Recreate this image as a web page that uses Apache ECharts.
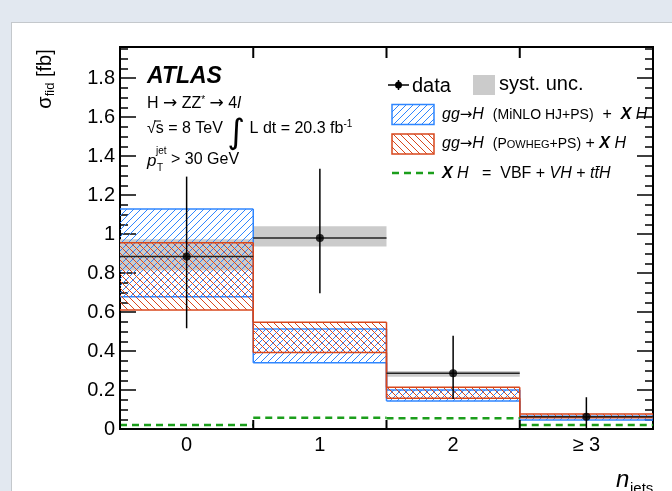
<!DOCTYPE html>
<html>
<head>
<meta charset="utf-8">
<script src="https://cdn.jsdelivr.net/npm/echarts@6/dist/echarts.min.js"></script>
<style>
  html, body { margin: 0; padding: 0; background: #e2e8f0; overflow: hidden; }
  #panel { position: absolute; left: 11px; top: 22px; width: 720px; height: 520px;
           background: #fff; border-left: 1px solid #c4c8cc; border-top: 1px solid #c4c8cc; }
  #main { position: absolute; left: 0; top: 0; width: 672px; height: 491px; }
</style>
</head>
<body>
<div id="panel"></div>
<div id="main"></div>
<script>
// n_jets bins
const categories = ['0', '1', '2', '≥ 3'];
// data points and total errors
const dataValues = [0.885, 0.98, 0.286, 0.063];
const dataErrLow = [0.517, 0.697, 0.154, 0.0];
const dataErrHigh = [1.295, 1.335, 0.479, 0.163];
// systematic band
const systLow = [0.813, 0.936, 0.268, 0.058];
const systHigh = [0.974, 1.04, 0.298, 0.068];
// gg->H (MiNLO HJ+PS) + XH
const minloLow = [0.679, 0.340, 0.144, 0.046];
const minloHigh = [1.129, 0.513, 0.200, 0.066];
// gg->H (Powheg+PS) + XH
const powhegLow = [0.611, 0.392, 0.158, 0.058];
const powhegHigh = [0.956, 0.548, 0.214, 0.077];
// XH = VBF + VH + ttH
const xhValues = [0.02, 0.058, 0.055, 0.02];

const Y_MAX = 1.96;
const FONT = 'Liberation Sans';
const BLUE = '#2f86ff';
const RED = '#d8471c';
const GREEN = '#1b9e1b';

// hatch patterns
function hatch(color, dir) {
    const s = 7;
    const c = document.createElement('canvas');
    c.width = s; c.height = s;
    const g = c.getContext('2d');
    g.strokeStyle = color;
    g.lineWidth = 1;
    g.beginPath();
    if (dir > 0) {
        g.moveTo(0, s); g.lineTo(s, 0);
        g.moveTo(-1, 1); g.lineTo(1, -1);
        g.moveTo(s - 1, s + 1); g.lineTo(s + 1, s - 1);
    } else {
        g.moveTo(0, 0); g.lineTo(s, s);
        g.moveTo(s - 1, -1); g.lineTo(s + 1, 1);
        g.moveTo(-1, s - 1); g.lineTo(1, s + 1);
    }
    g.stroke();
    return { image: c, repeat: 'repeat' };
}
const blueHatch = hatch(BLUE, 1);
const redHatch = hatch(RED, -1);

function bandData(lo, hi) {
    return categories.map((c, i) => [i, lo[i], hi[i]]);
}

// hatched band with step outlines (upper / lower envelopes)
function envelopeItem(lowArr, highArr, pattern, color) {
    return function (params, api) {
        const i = params.dataIndex;
        const w = api.size([1, 0])[0];
        const cx = api.coord([i, 0])[0];
        const x0 = cx - w / 2, x1 = cx + w / 2;
        const yLo = api.coord([i, api.value(1)])[1];
        const yHi = api.coord([i, api.value(2)])[1];
        const ls = { stroke: color, lineWidth: 1.5 };
        const children = [
            { type: 'rect', shape: { x: x0, y: yHi, width: w, height: yLo - yHi }, style: { fill: pattern } },
            { type: 'line', shape: { x1: x0, y1: yHi, x2: x1, y2: yHi }, style: ls },
            { type: 'line', shape: { x1: x0, y1: yLo, x2: x1, y2: yLo }, style: ls }
        ];
        if (i > 0) {
            const pHi = api.coord([i - 1, highArr[i - 1]])[1];
            const pLo = api.coord([i - 1, lowArr[i - 1]])[1];
            children.push({ type: 'line', shape: { x1: x0, y1: pHi, x2: x0, y2: yHi }, style: ls });
            children.push({ type: 'line', shape: { x1: x0, y1: pLo, x2: x0, y2: yLo }, style: ls });
        }
        return { type: 'group', children: children };
    };
}

function hLineItem(color, width, dash) {
    return function (params, api) {
        const i = params.dataIndex;
        const w = api.size([1, 0])[0];
        const p = api.coord([i, api.value(1)]);
        return {
            type: 'line',
            shape: { x1: p[0] - w / 2, y1: p[1], x2: p[0] + w / 2, y2: p[1] },
            style: { stroke: color, lineWidth: width, lineDash: dash || null }
        };
    };
}

const mycharts = echarts.init(document.getElementById('main'));

const axisLineStyle = { show: true, onZero: false, lineStyle: { color: '#000', width: 2 } };
function yAx(pos, interval, len, labels) {
    return {
        type: 'value', position: pos, min: 0, max: Y_MAX, interval: interval,
        axisLine: axisLineStyle,
        axisTick: { show: true, inside: true, length: len, lineStyle: { color: '#000', width: 1.5 } },
        axisLabel: {
            show: labels, fontSize: 20, color: '#000', fontFamily: FONT, margin: 5,
            formatter: function (v) {
                const k = v / 0.2;
                return Math.abs(k - Math.round(k)) < 1e-6 ? String(Number(v.toFixed(1))) : '';
            }
        },
        splitLine: { show: false }
    };
}

const ARROW = 'DejaVu Sans';
const legendRich = {
    i: { fontSize: 16, fontFamily: FONT, fontStyle: 'italic', fill: '#000' },
    a: { fontSize: 15, fontFamily: ARROW, fill: '#000' },
    n: { fontSize: 16, fontFamily: FONT, fill: '#000' },
    s: { fontSize: 14, fontFamily: FONT, fill: '#000' },
    sc: { fontSize: 11, fontFamily: FONT, fill: '#000', padding: [2, 0, 0, 0] },
    b: { fontSize: 16, fontFamily: FONT, fontStyle: 'italic', fontWeight: 'bold', fill: '#000' }
};

mycharts.setOption({
    animation: false,
    backgroundColor: 'transparent',
    grid: { left: 120, right: 19, top: 47, bottom: 62 },
    xAxis: [
        {
            type: 'category', data: categories, position: 'bottom', boundaryGap: true,
            axisLine: axisLineStyle,
            axisTick: { show: false },
            axisLabel: { fontSize: 20, color: '#000', fontFamily: FONT, margin: 6, interval: 0 }
        },
        {
            type: 'category', data: categories, position: 'top', boundaryGap: true,
            axisLine: axisLineStyle,
            axisTick: { show: false },
            axisLabel: { show: false }
        }
    ],
    yAxis: [
        yAx('left', 0.2, 16, true),
        yAx('left', 0.05, 8, false),
        yAx('right', 0.2, 16, false),
        yAx('right', 0.05, 8, false)
    ],
    series: [
        {
            name: 'syst. unc.', type: 'custom', data: bandData(systLow, systHigh),
            encode: { x: 0, y: [1, 2] },
            renderItem: function (params, api) {
                const i = params.dataIndex;
                const w = api.size([1, 0])[0];
                const lo = api.coord([i, api.value(1)]);
                const hi = api.coord([i, api.value(2)]);
                return { type: 'rect', shape: { x: lo[0] - w / 2, y: hi[1], width: w, height: lo[1] - hi[1] },
                         style: { fill: '#cbcbcb' } };
            }
        },
        {
            name: 'MiNLO', type: 'custom', data: bandData(minloLow, minloHigh),
            encode: { x: 0, y: [1, 2] },
            renderItem: envelopeItem(minloLow, minloHigh, blueHatch, BLUE)
        },
        {
            name: 'Powheg', type: 'custom', data: bandData(powhegLow, powhegHigh),
            encode: { x: 0, y: [1, 2] },
            renderItem: envelopeItem(powhegLow, powhegHigh, redHatch, RED)
        },
        {
            name: 'data line', type: 'custom', data: categories.map((c, i) => [i, dataValues[i]]),
            encode: { x: 0, y: 1 },
            renderItem: hLineItem('#222', 1.5)
        },
        {
            name: 'XH', type: 'custom', data: categories.map((c, i) => [i, xhValues[i]]),
            encode: { x: 0, y: 1 },
            renderItem: hLineItem(GREEN, 2.5, [7, 5])
        },
        {
            name: 'data err', type: 'custom', data: bandData(dataErrLow, dataErrHigh),
            encode: { x: 0, y: [1, 2] },
            renderItem: function (params, api) {
                const i = params.dataIndex;
                const lo = api.coord([i, api.value(1)]);
                const hi = api.coord([i, api.value(2)]);
                return { type: 'line', shape: { x1: lo[0], y1: lo[1], x2: hi[0], y2: hi[1] },
                         style: { stroke: '#000', lineWidth: 1.5 } };
            }
        },
        {
            name: 'data', type: 'scatter', data: categories.map((c, i) => [i, dataValues[i]]),
            symbol: 'circle', symbolSize: 8, itemStyle: { color: '#000' }
        },
        {
            // bin-edge ticks on the bottom and top frame (pointing inward)
            name: 'edge ticks', type: 'custom', z: 10,
            data: bandData(categories.map(() => 0), categories.map(() => Y_MAX)),
            encode: { x: 0, y: [1, 2] },
            renderItem: function (params, api) {
                const i = params.dataIndex;
                const w = api.size([1, 0])[0];
                const b = api.coord([i, api.value(1)]);
                const t = api.coord([i, api.value(2)]);
                const x = b[0] - w / 2;
                const ls = { stroke: '#000', lineWidth: 2 };
                return {
                    type: 'group', children: [
                        { type: 'line', shape: { x1: x, y1: b[1], x2: x, y2: b[1] - 9 }, style: ls },
                        { type: 'line', shape: { x1: x, y1: t[1], x2: x, y2: t[1] + 11 }, style: ls }
                    ]
                };
            }
        }
    ],
    graphic: [
        // y title
        {
            type: 'text', x: 45, y: 79, rotation: Math.PI / 2,
            style: {
                text: '{n|σ}{sub|fid}{n| [fb]}', align: 'center', verticalAlign: 'middle', fill: '#000',
                rich: {
                    n: { fontSize: 20, fontFamily: FONT, fill: '#000' },
                    sub: { fontSize: 13, fontFamily: FONT, fill: '#000', padding: [10, 0, 0, 0] }
                }
            }
        },
        // x title
        { type: 'text', x: 616, y: 480, style: { text: 'n', fontSize: 24, fontStyle: 'italic', fontFamily: FONT, fill: '#000', verticalAlign: 'middle' } },
        { type: 'text', x: 630, y: 489, style: { text: 'jets', fontSize: 15, fontFamily: FONT, fill: '#000', verticalAlign: 'middle' } },
        // ATLAS block
        { type: 'text', x: 147, y: 77, style: { text: 'ATLAS', fontSize: 23, fontWeight: 'bold', fontStyle: 'italic', fontFamily: FONT, fill: '#000', verticalAlign: 'middle' } },
        {
            type: 'text', x: 147, y: 104,
            style: {
                text: '{n|H }{a|→}{n| ZZ}{sup|*}{n| }{a|→}{n| 4}{i|l}', verticalAlign: 'middle',
                rich: {
                    n: { fontSize: 16, fontFamily: FONT, fill: '#000' },
                    a: { fontSize: 17, fontFamily: ARROW, fill: '#000' },
                    sup: { fontSize: 10, fontFamily: FONT, fill: '#000', padding: [0, 0, 8, 0] },
                    i: { fontSize: 16, fontFamily: FONT, fontStyle: 'italic', fill: '#000' }
                }
            }
        },
        {
            type: 'text', x: 147, y: 129,
            style: {
                text: '{n|√s = 8 TeV }{int|∫}{n| L dt = 20.3 fb}{sup|-1}', verticalAlign: 'middle',
                rich: {
                    n: { fontSize: 16, fontFamily: FONT, fill: '#000' },
                    int: { fontSize: 34, fontFamily: 'DejaVu Sans', fill: '#000', padding: [10, 0, 0, 0] },
                    sup: { fontSize: 10, fontFamily: FONT, fill: '#000', padding: [0, 0, 10, 0] }
                }
            }
        },
        { type: 'line', shape: { x1: 154, y1: 121, x2: 161, y2: 121 }, style: { stroke: '#000', lineWidth: 1 } },
        { type: 'text', x: 147, y: 161, style: { text: 'p', fontSize: 17, fontStyle: 'italic', fontFamily: FONT, fill: '#000', verticalAlign: 'middle' } },
        { type: 'text', x: 156, y: 151, style: { text: 'jet', fontSize: 10, fontFamily: FONT, fill: '#000', verticalAlign: 'middle' } },
        { type: 'text', x: 157, y: 168, style: { text: 'T', fontSize: 10, fontFamily: FONT, fill: '#000', verticalAlign: 'middle' } },
        { type: 'text', x: 171, y: 160, style: { text: '> 30 GeV', fontSize: 16, fontFamily: FONT, fill: '#000', verticalAlign: 'middle' } },
        // legend: data
        { type: 'line', shape: { x1: 388, y1: 85, x2: 409, y2: 85 }, style: { stroke: '#000', lineWidth: 1.5 } },
        { type: 'line', shape: { x1: 398.5, y1: 80, x2: 398.5, y2: 90 }, style: { stroke: '#000', lineWidth: 1.5 } },
        { type: 'circle', shape: { cx: 398.5, cy: 85, r: 3.5 }, style: { fill: '#000' } },
        { type: 'text', x: 412, y: 86, style: { text: 'data', fontSize: 20, fontFamily: FONT, fill: '#000', verticalAlign: 'middle' } },
        { type: 'rect', shape: { x: 473, y: 75, width: 22, height: 20 }, style: { fill: '#cbcbcb' } },
        { type: 'text', x: 499, y: 84, style: { text: 'syst. unc.', fontSize: 20, fontFamily: FONT, fill: '#000', verticalAlign: 'middle' } },
        // legend: MiNLO
        { type: 'rect', shape: { x: 392, y: 104.5, width: 42, height: 20 }, style: { fill: blueHatch, stroke: BLUE, lineWidth: 1.5 } },
        {
            type: 'text', x: 442, y: 115,
            style: { text: '{i|gg}{a|→}{i|H}{n|  }{s|(MiNLO HJ+PS)}{n|  +  }{b|X}{i| H}', verticalAlign: 'middle', rich: legendRich }
        },
        // legend: Powheg
        { type: 'rect', shape: { x: 392, y: 134, width: 42, height: 20 }, style: { fill: redHatch, stroke: RED, lineWidth: 1.5 } },
        {
            type: 'text', x: 442, y: 144,
            style: { text: '{i|gg}{a|→}{i|H}{n|  }{s|(P}{sc|OWHEG}{s|+PS)}{n| + }{b|X}{i| H}', verticalAlign: 'middle', rich: legendRich }
        },
        // legend: XH
        { type: 'line', shape: { x1: 392, y1: 173, x2: 434, y2: 173 }, style: { stroke: GREEN, lineWidth: 2.5, lineDash: [7, 5] } },
        {
            type: 'text', x: 442, y: 174,
            style: { text: '{b|X}{i| H}{n|   =  VBF + }{i|VH}{n| + }{i|tt̄H}', verticalAlign: 'middle', rich: legendRich }
        }
    ]
});
</script>
</body>
</html>
